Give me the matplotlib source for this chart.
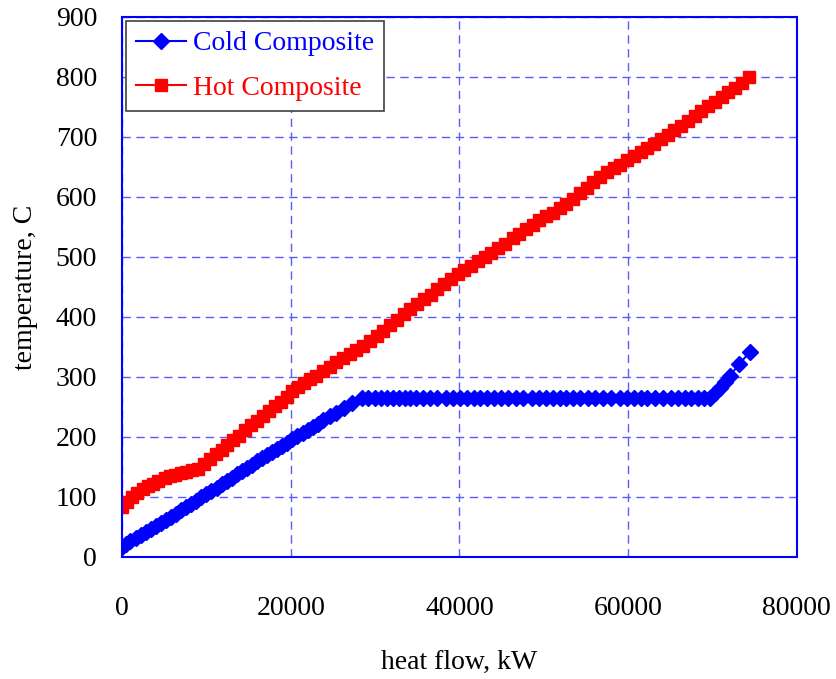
import matplotlib
matplotlib.use("Agg")
import matplotlib.pyplot as plt

# Hot composite curve (heat flow kW, temperature C)
hot_q = [0, 600, 1200, 1800, 2500, 3100, 3700, 4300, 5100, 5700, 6300, 7000,
         7600, 8300, 9000, 9700, 10400, 11100, 11800, 12500, 13200, 13900,
         14600, 15300, 16000, 16700, 17400, 18100, 18800, 19500, 20200, 20900,
         21600, 22300, 23000, 23800, 24600, 25400, 26200, 27000, 27800, 28600,
         29400, 30200, 31000, 31800, 32600, 33400, 34200, 35000, 35800, 36600,
         37400, 38200, 39000, 39800, 40600, 41400, 42200, 43000, 43800, 44600,
         45400, 46300, 47100, 47900, 48700, 49500, 50300, 51100, 51900, 52700,
         53500, 54300, 55100, 55900, 56700, 57500, 58300, 59100, 59900, 60700,
         61500, 62300, 63100, 63900, 64700, 65500, 66300, 67100, 67900, 68700,
         69500, 70300, 71100, 71900, 72700, 73500, 74400]
hot_t = [83, 92, 100, 106, 113, 118, 122, 127, 131, 134, 137, 140,
         142, 144, 147, 155, 163, 171, 178, 186, 194, 202,
         211, 219, 227, 235, 243, 251, 258, 266, 276, 283,
         289, 296, 302, 310, 317, 324, 331, 338, 345, 352,
         359, 368, 377, 386, 395, 404, 413, 421, 429, 437,
         446, 455, 463, 471, 478, 485, 493, 500, 507, 514,
         522, 531, 538, 546, 554, 561, 568, 574, 581, 588,
         597, 606, 615, 625, 634, 641, 648, 654, 661, 668,
         675, 681, 688, 696, 703, 711, 719, 727, 735, 743,
         751, 759, 767, 775, 782, 790, 800]

# Cold composite curve
cold_q = [0, 500, 1000, 1600, 2200, 2800, 3400, 4000, 4600, 5200, 5800, 6400,
          7000, 7600, 8200, 8800, 9400, 10000, 10600, 11200, 11800, 12400,
          13000, 13600, 14200, 14800, 15400, 16000, 16600, 17200, 17800, 18400,
          19000, 19600, 20200, 20800, 21400, 22000, 22600, 23200, 23800, 24600,
          25400, 26300, 27300, 28400, 29200, 30000, 30700, 31400, 32100, 32800,
          33500, 34200, 34900, 35700, 36500, 37400, 38400, 39300, 40100, 40900,
          41700, 42500, 43300, 44100, 44900, 45800, 46700, 47600, 48600, 49500,
          50300, 51100, 51900, 52700, 53500, 54300, 55200, 56100, 57000, 58000,
          59000, 59900, 60700, 61500, 62300, 63200, 64200, 65100, 65900, 66700,
          67500, 68300, 69000, 69700, 70300, 70900, 71500, 72100, 73200, 74500]
cold_t = [17, 21, 26, 31, 36, 42, 47, 52, 57, 62, 67, 72,
          78, 83, 88, 93, 99, 104, 110, 115, 121, 127,
          132, 138, 143, 148, 153, 159, 164, 169, 175, 180,
          185, 190, 196, 201, 206, 212, 217, 222, 228, 234,
          240, 248, 257, 265, 265, 265, 265, 265, 265, 265,
          265, 265, 265, 265, 265, 265, 265, 265, 265, 265,
          265, 265, 265, 265, 265, 265, 265, 265, 265, 265,
          265, 265, 265, 265, 265, 265, 265, 265, 265, 265,
          265, 265, 265, 265, 265, 265, 265, 265, 265, 265,
          265, 265, 265, 265, 273, 282, 292, 302, 322, 342]

x_ticks = [0, 20000, 40000, 60000, 80000]
y_ticks = [0, 100, 200, 300, 400, 500, 600, 700, 800, 900]

plt.rcParams['font.family'] = ['Liberation Serif', 'DejaVu Serif']

fig = plt.figure(figsize=(8.36, 6.79), dpi=100)
ax = fig.add_axes([0.146, 0.180, 0.807, 0.795])

ax.plot(cold_q, cold_t, color='#0000ff', marker='D', markersize=8,
        linewidth=1.5, label='Cold Composite')
ax.plot(hot_q, hot_t, color='#ff0000', marker='s', markersize=8,
        linewidth=1.5, label='Hot Composite')

ax.set_xlim(0, 80000)
ax.set_ylim(0, 900)
ax.set_xticks(x_ticks)
ax.set_yticks(y_ticks)
ax.tick_params(axis='both', length=0, labelsize=20)
ax.tick_params(axis='x', pad=28)
ax.tick_params(axis='y', pad=18)

ax.grid(True, color='#5a5aff', linestyle=(0, (6, 4)), linewidth=1)
for s in ax.spines.values():
    s.set_color('#0000ff')
    s.set_linewidth(1.5)

ax.set_xlabel('heat flow, kW', fontsize=20, labelpad=21)
ax.set_ylabel('temperature, C', fontsize=20, labelpad=13)

leg = ax.legend(loc='upper left', fontsize=20, fancybox=False, framealpha=1,
                edgecolor='#404040', borderaxespad=0.15, handlelength=1.8,
                handletextpad=0.25, labelspacing=0.7, borderpad=0.35)
leg.get_frame().set_linewidth(1.2)
for txt, c in zip(leg.get_texts(), ['#0000ff', '#ff0000']):
    txt.set_color(c)

fig.savefig('out.png', dpi=100)
